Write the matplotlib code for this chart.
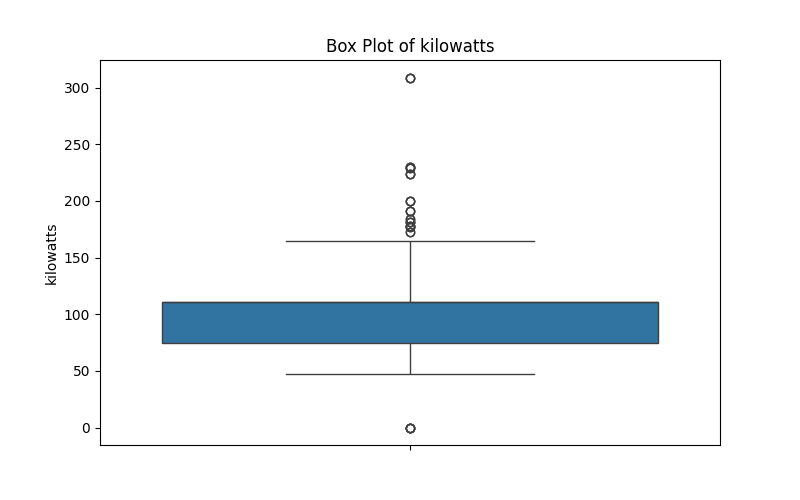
import matplotlib
matplotlib.use("Agg")

import numpy as np
import pandas as pd
import seaborn as sns
from matplotlib import pyplot as plt

# kilowatts values (sorted), repeated values overlap as bold circles
zeros = [0] * 5
low_values = [47, 50, 52, 54, 55, 55, 57, 58, 60, 60, 62, 63, 63, 65, 66,
              66, 68, 69, 70, 70, 71, 72, 73, 74, 74]
q1_value = [75]
mid_values = [77, 78, 80, 81, 82, 84, 85, 86, 88, 90, 90, 92, 94, 96, 98,
              100, 100, 101, 103, 105, 105, 106, 108, 109, 110]
mode_values = [111] * 35
top_whisker = [165]
high_outliers = ([173] * 2 + [177] * 2 + [178] * 3 + [181] * 3 + [184] * 2 +
                 [191] * 3 + [200] * 3 + [224] * 3 + [229] * 2 + [230] * 3 +
                 [309] * 3)

kilowatts = zeros + low_values + q1_value + mid_values + mode_values + top_whisker + high_outliers
df = pd.DataFrame({"kilowatts": kilowatts})

plt.figure(figsize=(8, 5), dpi=100)
sns.boxplot(y=df["kilowatts"])
plt.title("Box Plot of kilowatts")
plt.ylabel("kilowatts")
plt.savefig("out.png")
